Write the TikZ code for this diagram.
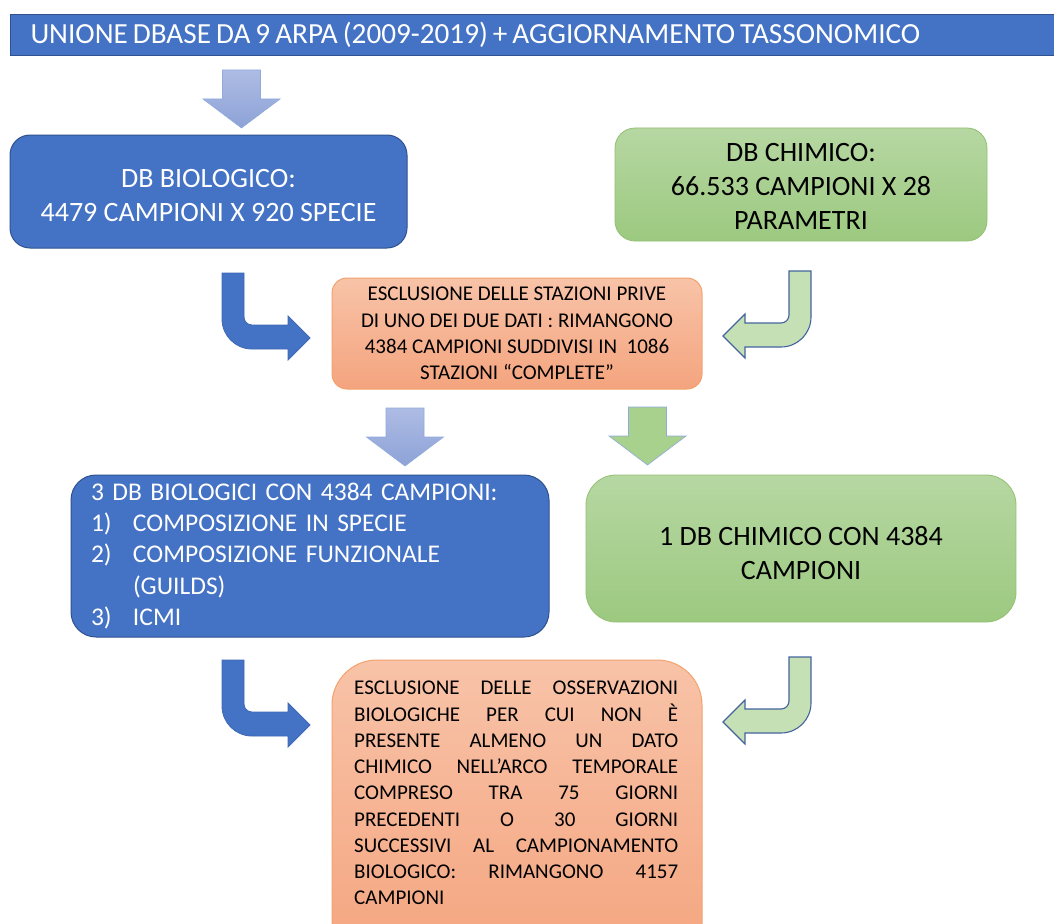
\documentclass[tikz,border=0pt]{standalone}
\usepackage{fontspec}
\setmainfont{Carlito}
\definecolor{bblue}{HTML}{4472C4}
\definecolor{bbord}{HTML}{2F528F}
\definecolor{gtop}{HTML}{B6D7A2}
\definecolor{gbot}{HTML}{9CC980}
\definecolor{gbord}{HTML}{93C072}
\definecolor{otop}{HTML}{F8C3A8}
\definecolor{obot}{HTML}{F4A47E}
\definecolor{obord}{HTML}{F3A26C}
\definecolor{dtop}{HTML}{AEBCE4}
\definecolor{dbot}{HTML}{8DA2D7}
\definecolor{dbord}{HTML}{8FAADC}
\definecolor{gdown}{HTML}{A9D18E}
\definecolor{lgreen}{HTML}{C5E0B4}
\definecolor{arrbord}{HTML}{44649E}
\definecolor{barrbord}{HTML}{3E68B5}
\tikzset{
  bluebox/.style={draw=bbord, line width=1pt, fill=bblue, text=white, align=center, inner sep=0pt},
  greenbox/.style={draw=gbord, line width=0.8pt, top color=gtop, bottom color=gbot, text=black, align=center, inner sep=0pt},
  orangebox/.style={draw=obord, line width=1pt, top color=otop, bottom color=obot, text=black, inner sep=0pt},
  bigfont/.style={font=\fontsize{28}{34}\selectfont},
  smallfont/.style={font=\fontsize{21}{26.25}\selectfont},
  bluedown/.style={draw=dbord, line width=0.6pt, top color=dtop, bottom color=dbot},
  greendown/.style={draw=dbord, line width=0.6pt, fill=gdown},
  bluebent/.style={draw=barrbord, line width=0.8pt, fill=bblue},
  greenbent/.style={draw=arrbord, line width=1.1pt, fill=lgreen},
  downarr/.pic={\path[pic actions] (-19,0) -- (19,0) -- (19,29) -- (38.5,29) -- (0,58) -- (-38.5,29) -- (-19,29) -- cycle;},
  bentarr/.pic={\path[pic actions] (0,0) -- (22,0) -- (22,44) .. controls (22,48.4) and (25.6,52) .. (30,52) -- (66,52) -- (66,43) -- (88,65) -- (66,87) -- (66,76) -- (30,76) .. controls (13.4,76) and (0,62.6) .. (0,46) -- cycle;}
}
\begin{document}
\begin{tikzpicture}[x=1pt,y=-1pt]
\useasboundingbox (0,0) rectangle (1054,923);
\clip (0,0) rectangle (1054,923);
\fill[white] (0,0) rectangle (1054,923);

% title bar
\node[draw=bbord, line width=1pt, fill=bblue, text=white, anchor=north west,
      minimum width=1060pt, minimum height=41pt, text width=1020pt, align=left,
      inner xsep=20pt, inner ysep=0pt, font=\fontsize{29.2}{34}\selectfont]
      (title) at (10,14) {\spaceskip=5pt UNIONE DBASE DA 9 ARPA (2009-2019) + AGGIORNAMENTO TASSONOMICO};

% first level boxes
\node[bluebox, bigfont, minimum width=397pt, minimum height=113pt, rounded corners=20pt]
  (bio1) at (208.5,191.5) {\rule{0pt}{26pt}DB BIOLOGICO:\\4479 CAMPIONI X 920 SPECIE};
\node[greenbox, bigfont, minimum width=372pt, minimum height=113pt, rounded corners=20pt]
  (chem1) at (801,184.5) {\rule{0pt}{22pt}DB CHIMICO:\\66.533 CAMPIONI X 28\\PARAMETRI};

% first exclusion
\node[orangebox, smallfont, align=center, minimum width=370pt, minimum height=111pt, rounded corners=15pt]
  (excl1) at (517,333.5) {ESCLUSIONE DELLE STAZIONI PRIVE\\DI UNO DEI DUE DATI : RIMANGONO\\4384 CAMPIONI SUDDIVISI IN\ \ 1086\\STAZIONI “COMPLETE”};

% second level boxes
\node[bluebox, font=\fontsize{25.5}{31.3}\selectfont, align=left, minimum width=478pt, minimum height=162pt,
      text width=438pt, inner xsep=20pt, rounded corners=25pt]
  (bio3) at (310,556) {3 DB BIOLOGICI CON 4384 CAMPIONI:\\
  \makebox[42pt][l]{1)}COMPOSIZIONE IN SPECIE\\
  \makebox[42pt][l]{2)}COMPOSIZIONE FUNZIONALE\\
  \hspace*{42pt}(GUILDS)\\
  \makebox[42pt][l]{3)}ICMI};
\node[greenbox, bigfont, minimum width=430pt, minimum height=147pt, rounded corners=30pt]
  (chem2) at (801,548.5) {\rule{0pt}{28pt}1 DB CHIMICO CON 4384\\CAMPIONI};

% second exclusion
\node[orangebox, minimum width=370pt, minimum height=310pt, rounded corners=45pt]
  (excl2) at (517,815) {};
\node[smallfont, align=left, anchor=north west, inner sep=0pt, text=black]
  (excl2txt) at (354,681) {%
  \makebox[324pt][s]{ESCLUSIONE DELLE OSSERVAZIONI}\\
  \makebox[324pt][s]{BIOLOGICHE PER CUI NON È}\\
  \makebox[324pt][s]{PRESENTE ALMENO UN DATO}\\
  \makebox[324pt][s]{CHIMICO NELL’ARCO TEMPORALE}\\
  \makebox[324pt][s]{COMPRESO TRA 75 GIORNI}\\
  \makebox[324pt][s]{PRECEDENTI O 30 GIORNI}\\
  \makebox[324pt][s]{SUCCESSIVI AL CAMPIONAMENTO}\\
  \makebox[324pt][s]{BIOLOGICO: RIMANGONO 4157}\\
  CAMPIONI};

% arrows
\pic[bluedown] at (241.5,70) {downarr};
\pic[bluebent] at (222,273) {bentarr};
\pic[greenbent, xscale=-1] at (811,271) {bentarr};
\pic[bluedown] at (405,408) {downarr};
\pic[greendown] at (647.5,407) {downarr};
\pic[bluebent] at (222,660) {bentarr};
\pic[greenbent, xscale=-1] at (811,657) {bentarr};
\end{tikzpicture}
\end{document}
